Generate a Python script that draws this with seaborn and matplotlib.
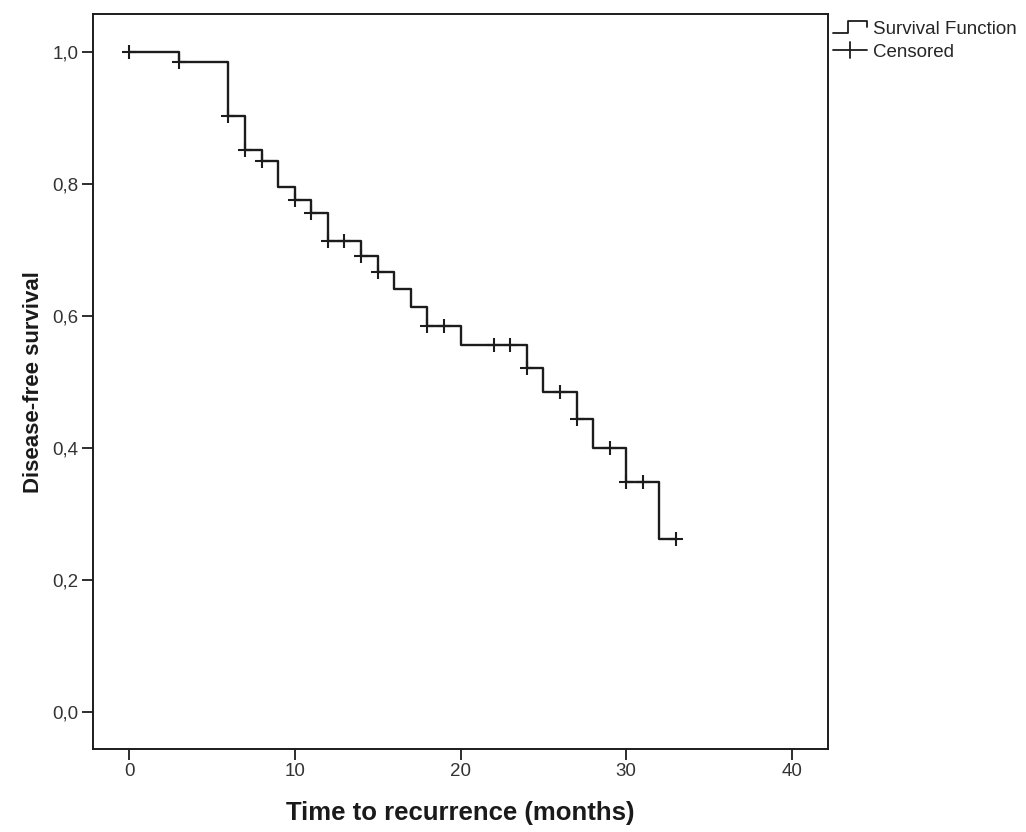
import numpy as np
import pandas as pd
import matplotlib
matplotlib.use('Agg')
import matplotlib.pyplot as plt
from matplotlib.lines import Line2D
from matplotlib.legend_handler import HandlerBase
from matplotlib.ticker import FuncFormatter
import seaborn as sns

# Kaplan-Meier estimate
event_times = [0, 3, 6, 7, 8, 9, 10, 11, 12, 14, 15, 16, 17, 18, 20, 24, 25, 27, 28, 30, 32]
survival = [1.0, 0.985, 0.902, 0.851, 0.835, 0.795, 0.775, 0.756, 0.713, 0.690, 0.666,
            0.641, 0.614, 0.585, 0.556, 0.521, 0.485, 0.444, 0.400, 0.349, 0.262]
last_followup = 33
censored_times = [0, 3, 6, 7, 8, 10, 11, 12, 13, 14, 15, 18, 19, 22, 23, 24, 26, 27,
                  29, 30, 31, 33]
x_ticks = [0, 10, 20, 30, 40]
y_ticks = [0.0, 0.2, 0.4, 0.6, 0.8, 1.0]

sns.set_style('white')
plt.rcParams['font.family'] = ['Liberation Sans', 'DejaVu Sans']

LINE = '#1c1c1c'

curve = pd.DataFrame({'time': event_times + [last_followup],
                      'surv': survival + [survival[-1]]})
idx = np.searchsorted(event_times, censored_times, side='right') - 1
cens = pd.DataFrame({'time': censored_times, 'surv': np.array(survival)[idx]})

fig = plt.figure(figsize=(10.26, 8.32), dpi=100)
ax = fig.add_axes([0.0902, 0.0992, 0.8075 - 0.0902, 0.9832 - 0.0992])

sns.lineplot(data=curve, x='time', y='surv', ax=ax, drawstyle='steps-post',
             estimator=None, sort=False, color=LINE, linewidth=1.7)
sns.scatterplot(data=cens, x='time', y='surv', ax=ax, marker='+', s=100,
                color=LINE, linewidth=1.5, zorder=3)

ax.set_xlim(-2.2, 42.2)
ax.set_ylim(-0.056, 1.057)
ax.set_xticks(x_ticks)
ax.set_yticks(y_ticks)
ax.yaxis.set_major_formatter(FuncFormatter(lambda v, p: f'{v:.1f}'.replace('.', ',')))
ax.tick_params(direction='out', length=8, width=1.3, colors=LINE, labelsize=13.5,
               labelcolor='#333333', left=True, bottom=True, pad=2)
for s in ax.spines.values():
    s.set_color(LINE)
    s.set_linewidth(1.4)

ax.set_xlabel('Time to recurrence (months)', fontsize=18.5, fontweight='bold',
              labelpad=15, color='#1a1a1a')
ax.set_ylabel('Disease-free survival', fontsize=16, fontweight='bold', labelpad=6,
              color='#1a1a1a')


class StepHandler(HandlerBase):
    def create_artists(self, legend, orig_handle, xdescent, ydescent, width, height,
                       fontsize, trans):
        x0, y0 = -xdescent, -ydescent
        xm = x0 + 0.45 * width
        xs = [x0, xm, xm, x0 + width, x0 + width]
        ys = [y0 + 0.1 * height, y0 + 0.1 * height, y0 + 0.95 * height,
              y0 + 0.95 * height, y0 + 0.5 * height]
        return [Line2D(xs, ys, color=LINE, lw=1.3, transform=trans)]


class CensorHandler(HandlerBase):
    def create_artists(self, legend, orig_handle, xdescent, ydescent, width, height,
                       fontsize, trans):
        x0, y0 = -xdescent, -ydescent
        ym = y0 + 0.5 * height
        xm = x0 + 0.5 * width
        h = Line2D([x0, x0 + width], [ym, ym], color=LINE, lw=1.3, transform=trans)
        v = Line2D([xm, xm], [y0 - 0.1 * height, y0 + 1.1 * height], color=LINE, lw=1.3,
                   transform=trans)
        return [h, v]


step_h = Line2D([], [])
cens_h = Line2D([], [])
fig.legend([step_h, cens_h], ['Survival Function', 'Censored'],
           handler_map={step_h: StepHandler(), cens_h: CensorHandler()},
           loc='upper left', bbox_to_anchor=(829 / 1026, 1 - 17 / 832),
           frameon=False, fontsize=13.5, handlelength=1.85, handletextpad=0.3,
           labelspacing=0.3, borderaxespad=0, borderpad=0.2)

fig.savefig('out.png', dpi=100)
